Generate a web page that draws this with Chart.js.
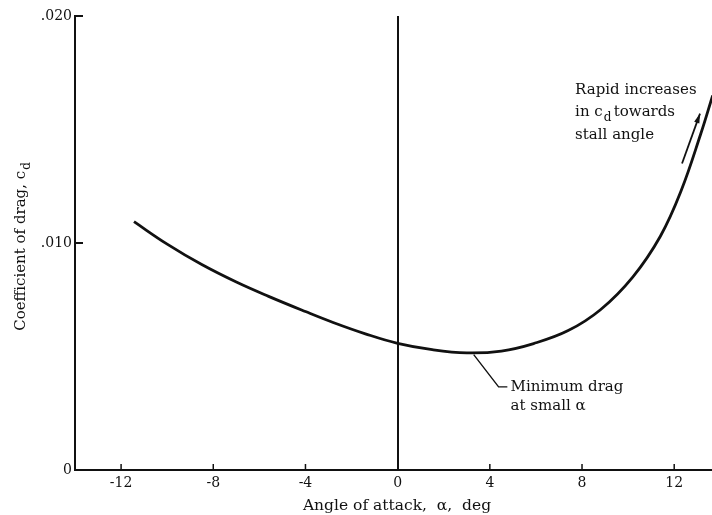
<!DOCTYPE html>
<html lang="en">
<head>
    <meta charset="UTF-8">
    <title>Coefficient of drag vs angle of attack</title>
    <script src="https://cdn.jsdelivr.net/npm/chart.js"></script>
    <style>
        html, body { margin: 0; padding: 0; background: #fff; }
        #wrap { width: 712px; height: 515px; }
    </style>
</head>
<body>
    <div id="wrap"><canvas id="drag-chart" width="712" height="515"></canvas></div>
    <script>
        // values
        const angles = [-11.44, -10, -8.5, -7, -5.6, -4, -2.8, -1.4, 0, 1.5, 3, 4.5, 5.9, 7.4, 8.8, 10.2, 11.4, 12.3, 13.15, 13.67];
        const dragCoef = [0.01094, 0.00995, 0.00905, 0.00828, 0.00765, 0.00698, 0.0065, 0.006, 0.00558, 0.0053, 0.00516, 0.00524, 0.00557, 0.00614, 0.00706, 0.0085, 0.0103, 0.0123, 0.0148, 0.0165];
        const xTicks = [-12, -8, -4, 0, 4, 8, 12];
        const yTicks = [0, 0.010, 0.020];
        const yTickLabels = ['0', '.010', '.020'];

        // annotations (data coordinates)
        const stallArrow = [[12.34, 0.0135], [13.12, 0.0157]];
        const stallText = [7.7, [0.01674, 0.01577, 0.01476]];
        const minLeader = [[3.3, 0.00508], [4.38, 0.00366], [4.76, 0.00366]];
        const minText = [4.9, [0.00366, 0.00283]];

        const serif = '"DejaVu Serif", "Liberation Serif", serif';

        const decorations = {
            id: 'decorations',
            afterDraw(chart) {
                const c = chart.ctx, x = chart.scales.x, y = chart.scales.y;
                const X = v => x.getPixelForValue(v), Y = v => y.getPixelForValue(v);
                c.save();
                c.strokeStyle = '#111';
                c.fillStyle = '#111';

                // inward tick marks
                c.lineWidth = 2;
                yTicks.forEach(v => {
                    if (v === 0) return;
                    c.beginPath(); c.moveTo(x.left, Y(v)); c.lineTo(x.left + 8, Y(v)); c.stroke();
                });
                c.lineWidth = 1.5;
                xTicks.forEach(v => {
                    if (v === 0) return;
                    c.beginPath(); c.moveTo(X(v), y.bottom); c.lineTo(X(v), y.bottom - 6); c.stroke();
                });

                // x axis title
                c.font = '15.5px ' + serif;
                c.textAlign = 'center';
                c.textBaseline = 'middle';
                c.fillText('Angle of attack,  \u03b1,  deg', 397, 506);

                // y axis title with subscript
                c.save();
                c.translate(21, 247);
                c.rotate(-Math.PI / 2);
                c.font = '15px ' + serif;
                const main = 'Coefficient of drag, c';
                const w1 = c.measureText(main).width;
                c.font = '12px ' + serif;
                const w2 = c.measureText('d').width;
                let sx = -(w1 + w2) / 2;
                c.textAlign = 'left';
                c.font = '15px ' + serif;
                c.fillText(main, sx, 0);
                c.font = '12px ' + serif;
                c.fillText('d', sx + w1 + 1, 6);
                c.restore();

                // stall annotation text
                c.font = '15px ' + serif;
                c.textAlign = 'left';
                c.textBaseline = 'middle';
                const tx = X(stallText[0]);
                c.fillText('Rapid increases', tx, Y(stallText[1][0]));
                const l2y = Y(stallText[1][1]);
                c.fillText('in c', tx, l2y);
                const wIn = c.measureText('in c').width;
                c.font = '12px ' + serif;
                c.fillText('d', tx + wIn + 1, l2y + 6);
                c.font = '15px ' + serif;
                c.fillText('towards', tx + wIn + 11, l2y);
                c.fillText('stall angle', tx, Y(stallText[1][2]));

                // arrow
                const ax0 = X(stallArrow[0][0]), ay0 = Y(stallArrow[0][1]);
                const ax1 = X(stallArrow[1][0]), ay1 = Y(stallArrow[1][1]);
                c.lineWidth = 1.8;
                c.beginPath(); c.moveTo(ax0, ay0); c.lineTo(ax1, ay1); c.stroke();
                const ang = Math.atan2(ay1 - ay0, ax1 - ax0);
                c.beginPath();
                c.moveTo(ax1, ay1);
                c.lineTo(ax1 - 10 * Math.cos(ang - 0.28), ay1 - 10 * Math.sin(ang - 0.28));
                c.lineTo(ax1 - 10 * Math.cos(ang + 0.28), ay1 - 10 * Math.sin(ang + 0.28));
                c.closePath(); c.fill();

                // minimum drag leader
                c.lineWidth = 1.4;
                c.beginPath();
                minLeader.forEach((p, i) => {
                    if (i === 0) c.moveTo(X(p[0]), Y(p[1])); else c.lineTo(X(p[0]), Y(p[1]));
                });
                c.stroke();
                c.font = '15px ' + serif;
                c.fillText('Minimum drag', X(minText[0]), Y(minText[1][0]));
                c.fillText('at small \u03b1', X(minText[0]), Y(minText[1][1]));
                c.restore();
            }
        };

        new Chart(document.getElementById('drag-chart'), {
            type: 'line',
            data: {
                datasets: [{
                    data: angles.map((a, i) => ({ x: a, y: dragCoef[i] })),
                    borderColor: '#111',
                    borderWidth: 2.8,
                    pointRadius: 0,
                    fill: false,
                    tension: 0.4
                }]
            },
            options: {
                responsive: false,
                animation: false,
                layout: { padding: { top: 16, right: 0, left: 0, bottom: 0 } },
                plugins: { legend: { display: false }, tooltip: { enabled: false } },
                scales: {
                    x: {
                        type: 'linear',
                        min: -14,
                        max: 13.64,
                        afterBuildTicks: s => { s.ticks = xTicks.map(v => ({ value: v })); },
                        afterFit: s => { s.height = 45; },
                        border: { color: '#111', width: 2 },
                        grid: {
                            drawTicks: false,
                            lineWidth: 2,
                            color: ctx => (ctx.tick && ctx.tick.value === 0) ? '#111' : 'rgba(0,0,0,0)'
                        },
                        ticks: {
                            padding: 5,
                            color: '#111',
                            font: { family: serif, size: 14 },
                            callback: v => String(v)
                        }
                    },
                    y: {
                        min: 0,
                        max: 0.020,
                        afterBuildTicks: s => { s.ticks = yTicks.map(v => ({ value: v })); },
                        afterFit: s => { s.width = 75; },
                        border: { color: '#111', width: 2 },
                        grid: { display: false, drawTicks: false },
                        ticks: {
                            padding: 3,
                            color: '#111',
                            font: { family: serif, size: 14 },
                            callback: (v) => yTickLabels[yTicks.indexOf(v)] ?? ''
                        }
                    }
                }
            },
            plugins: [decorations]
        });
    </script>
</body>
</html>
